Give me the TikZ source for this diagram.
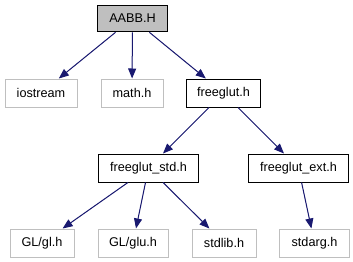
\documentclass[tikz,border=0pt]{standalone}
\usepackage{fontspec}
\setmainfont{Liberation Sans}
\definecolor{edgeblue}{RGB}{25, 25, 112}
\definecolor{boxgray}{RGB}{191, 191, 191}
\usetikzlibrary{arrows.meta}

\begin{document}
\begin{tikzpicture}[x=0.75pt, y=-0.75pt,
        hdr/.style={draw=black, line width=0.75pt, minimum height=21pt, inner sep=0pt, font=\fontsize{9.5}{11}\selectfont},
        sys/.style={hdr, draw=boxgray},
        inc/.style={-{Triangle[length=7.5pt, width=6pt]}, draw=edgeblue, fill=edgeblue, line width=0.75pt}]
    \useasboundingbox (0,0) rectangle (353,261);

    % top file and its direct includes
    \node[hdr, fill=boxgray, minimum width=53pt, minimum height=20pt] (aabb) at (132.5,18.5) {AABB.H};
    \node[sys, minimum width=54pt] (iostream) at (41,93) {iostream};
    \node[sys, minimum width=46.5pt] (math) at (132,93) {math.h};
    \node[hdr, minimum width=56pt] (freeglut) at (223.5,93) {freeglut.h};

    % freeglut headers
    \node[hdr, minimum width=75.5pt] (fgstd) at (148.5,168) {freeglut\_std.h};
    \node[hdr, minimum width=75.5pt] (fgext) at (298.5,168) {freeglut\_ext.h};

    % system headers at the bottom
    \node[sys, minimum width=48pt] (gl) at (42,243) {GL/gl.h};
    \node[sys, minimum width=52.5pt] (glu) at (133,243) {GL/glu.h};
    \node[sys, minimum width=48pt] (stdlib) at (224,243) {stdlib.h};
    \node[sys, minimum width=52pt] (stdarg) at (314.5,243) {stdarg.h};

    % include edges
    \draw[inc] (aabb) -- (iostream);
    \draw[inc] (aabb) -- (math);
    \draw[inc] (aabb) -- (freeglut);
    \draw[inc] (freeglut) -- (fgstd);
    \draw[inc] (freeglut) -- (fgext);
    \draw[inc] (fgstd) -- (gl);
    \draw[inc] (fgstd) -- (glu);
    \draw[inc] (fgstd) -- (stdlib);
    \draw[inc] (fgext) -- (stdarg);
\end{tikzpicture}
\end{document}
